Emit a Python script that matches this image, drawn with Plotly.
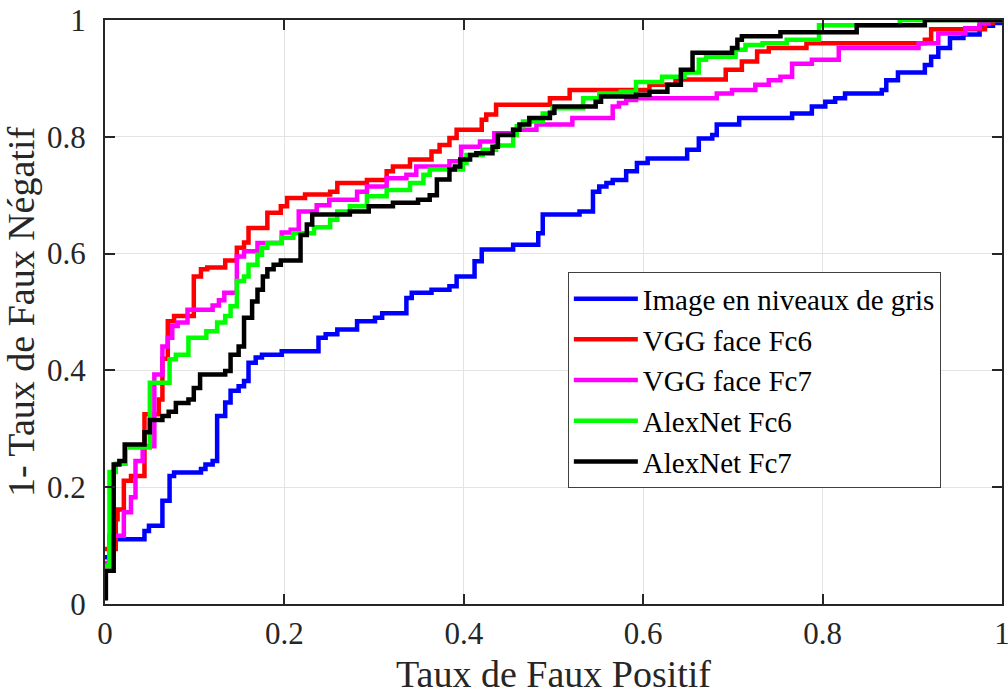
import plotly.graph_objects as go

# ---- data ----
series_names = ["Image en niveaux de gris", "VGG face Fc6", "VGG face Fc7", "AlexNet Fc6", "AlexNet Fc7"]
series_colors = ["#0000FF", "#FF0000", "#FF00FF", "#00FF00", "#000000"]

gray_x = [0.0, 0.006, 0.044, 0.049, 0.064, 0.072, 0.077, 0.107, 0.112, 0.120, 0.125, 0.134, 0.140, 0.149, 0.155,
          0.160, 0.168, 0.175, 0.197, 0.238, 0.246, 0.259, 0.281, 0.301, 0.309, 0.336, 0.342, 0.364, 0.384, 0.392,
          0.412, 0.420, 0.455, 0.483, 0.488, 0.529, 0.544, 0.551, 0.559, 0.566, 0.581, 0.593, 0.605, 0.649, 0.662,
          0.677, 0.682, 0.707, 0.766, 0.788, 0.803, 0.814, 0.825, 0.866, 0.871, 0.884, 0.914, 0.921, 0.929, 0.942,
          0.957, 0.975, 0.990, 1.0]
gray_y = [0.08, 0.111, 0.125, 0.134, 0.177, 0.219, 0.225, 0.231, 0.239, 0.245, 0.322, 0.345, 0.365, 0.373, 0.382,
          0.413, 0.422, 0.427, 0.433, 0.456, 0.462, 0.470, 0.484, 0.490, 0.498, 0.524, 0.533, 0.538, 0.544, 0.561,
          0.587, 0.607, 0.615, 0.635, 0.667, 0.672, 0.706, 0.715, 0.721, 0.726, 0.741, 0.755, 0.763, 0.778, 0.797,
          0.803, 0.821, 0.832, 0.840, 0.852, 0.860, 0.866, 0.874, 0.880, 0.897, 0.910, 0.923, 0.937, 0.952, 0.969,
          0.975, 0.990, 0.995, 0.995]

vgg6_x = [0.0, 0.012, 0.014, 0.021, 0.029, 0.044, 0.060, 0.064, 0.070, 0.077, 0.099, 0.107, 0.114, 0.134, 0.147,
          0.155, 0.160, 0.181, 0.196, 0.203, 0.223, 0.251, 0.259, 0.292, 0.314, 0.321, 0.340, 0.364, 0.373, 0.384,
          0.392, 0.420, 0.425, 0.436, 0.496, 0.518, 0.607, 0.636, 0.692, 0.710, 0.727, 0.740, 0.782, 0.914, 0.921,
          0.981, 0.990, 1.0]
vgg6_y = [0.094, 0.145, 0.162, 0.211, 0.219, 0.325, 0.350, 0.420, 0.484, 0.493, 0.561, 0.573, 0.576, 0.588, 0.610,
          0.619, 0.644, 0.670, 0.681, 0.695, 0.701, 0.706, 0.721, 0.726, 0.741, 0.749, 0.761, 0.775, 0.786, 0.798,
          0.812, 0.829, 0.838, 0.855, 0.866, 0.880, 0.889, 0.898, 0.915, 0.929, 0.946, 0.952, 0.960, 0.966, 0.984,
          0.995, 1.0, 1.0]

vgg7_x = [0.0, 0.005, 0.021, 0.029, 0.034, 0.042, 0.055, 0.064, 0.070, 0.075, 0.081, 0.092, 0.120, 0.127, 0.133,
          0.147, 0.155, 0.170, 0.197, 0.207, 0.216, 0.236, 0.250, 0.281, 0.292, 0.314, 0.336, 0.347, 0.384, 0.397,
          0.418, 0.434, 0.455, 0.481, 0.521, 0.566, 0.573, 0.581, 0.592, 0.682, 0.699, 0.725, 0.740, 0.753, 0.766,
          0.788, 0.818, 0.907, 0.929, 0.959, 0.975, 0.985, 1.0]
vgg7_y = [0.07, 0.117, 0.157, 0.183, 0.245, 0.270, 0.393, 0.441, 0.456, 0.476, 0.482, 0.504, 0.511, 0.520, 0.533,
          0.595, 0.604, 0.618, 0.636, 0.641, 0.672, 0.683, 0.692, 0.706, 0.715, 0.729, 0.735, 0.749, 0.758, 0.783,
          0.792, 0.806, 0.812, 0.821, 0.832, 0.852, 0.858, 0.863, 0.866, 0.874, 0.880, 0.889, 0.897, 0.903, 0.925,
          0.932, 0.952, 0.960, 0.977, 0.986, 0.994, 1.0, 1.0]

alex6_x = [0.0, 0.005, 0.012, 0.023, 0.050, 0.072, 0.079, 0.093, 0.113, 0.125, 0.134, 0.140, 0.147, 0.155, 0.160,
           0.170, 0.175, 0.181, 0.197, 0.210, 0.233, 0.251, 0.259, 0.273, 0.292, 0.314, 0.340, 0.355, 0.362, 0.399,
           0.403, 0.421, 0.436, 0.455, 0.459, 0.466, 0.488, 0.499, 0.533, 0.551, 0.575, 0.592, 0.621, 0.646, 0.662,
           0.670, 0.703, 0.714, 0.733, 0.760, 0.796, 0.886, 1.0]
alex6_y = [0.065, 0.226, 0.240, 0.268, 0.379, 0.419, 0.427, 0.456, 0.467, 0.482, 0.493, 0.510, 0.553, 0.561, 0.581,
           0.598, 0.610, 0.618, 0.627, 0.635, 0.645, 0.658, 0.672, 0.681, 0.698, 0.709, 0.721, 0.735, 0.744, 0.755,
           0.769, 0.778, 0.785, 0.803, 0.818, 0.826, 0.840, 0.849, 0.866, 0.874, 0.877, 0.894, 0.903, 0.910, 0.932,
           0.937, 0.949, 0.957, 0.960, 0.966, 0.991, 1.0, 1.0]

alex7_x = [0.0, 0.001, 0.0097, 0.016, 0.022, 0.044, 0.050, 0.064, 0.071, 0.079, 0.093, 0.099, 0.106, 0.134, 0.140,
           0.149, 0.155, 0.164, 0.170, 0.176, 0.181, 0.188, 0.196, 0.218, 0.225, 0.231, 0.273, 0.294, 0.321, 0.349,
           0.362, 0.370, 0.384, 0.390, 0.396, 0.407, 0.414, 0.432, 0.438, 0.455, 0.462, 0.473, 0.496, 0.501, 0.547,
           0.553, 0.592, 0.607, 0.627, 0.642, 0.655, 0.699, 0.705, 0.710, 0.753, 0.838, 0.914, 1.0]
alex7_y = [0.01, 0.057, 0.239, 0.245, 0.273, 0.294, 0.315, 0.322, 0.329, 0.344, 0.350, 0.370, 0.393, 0.399, 0.427,
           0.441, 0.490, 0.518, 0.538, 0.561, 0.573, 0.581, 0.588, 0.632, 0.650, 0.667, 0.672, 0.681, 0.687, 0.692,
           0.700, 0.727, 0.744, 0.749, 0.761, 0.769, 0.772, 0.783, 0.803, 0.812, 0.821, 0.832, 0.841, 0.852, 0.860,
           0.869, 0.872, 0.877, 0.889, 0.915, 0.944, 0.952, 0.966, 0.972, 0.979, 0.991, 1.0, 1.0]

tick_vals = [0, 0.2, 0.4, 0.6, 0.8, 1]
tick_text = ["0", "0.2", "0.4", "0.6", "0.8", "1"]

x_title = "Taux de Faux Positif"
y_title = "1- Taux de Faux Négatif"

# ---- figure ----
xs = [gray_x, vgg6_x, vgg7_x, alex6_x, alex7_x]
ys = [gray_y, vgg6_y, vgg7_y, alex6_y, alex7_y]

FONT = "Liberation Serif"
TXT = "#262626"
fig = go.Figure()
for name, color, x, y in zip(series_names, series_colors, xs, ys):
    fig.add_trace(go.Scatter(x=x, y=y, mode="lines", name=name,
                             line=dict(color=color, width=4.5, shape="hv")))

def axis_style(title_text, standoff, label_standoff):
    return dict(
        range=[0, 1], tickvals=tick_vals, ticktext=tick_text,
        showline=True, linecolor=TXT, linewidth=2, mirror="ticks",
        ticks="inside", ticklen=10, tickwidth=2, tickcolor=TXT,
        showgrid=True, gridcolor="#e3e3e3", gridwidth=1, zeroline=False,
        tickfont=dict(family=FONT, size=31, color=TXT),
        ticklabelstandoff=label_standoff,
        ticklabeloverflow="allow",
        automargin=False,
        title=dict(text=title_text, font=dict(family=FONT, size=38, color=TXT), standoff=standoff),
    )

fig.update_layout(
    width=1008, height=695,
    margin=dict(l=105, r=6, t=20, b=91, autoexpand=False),
    paper_bgcolor="white", plot_bgcolor="white",
    font=dict(family=FONT, color=TXT),
    xaxis=axis_style(x_title, 12, 1),
    yaxis=axis_style(y_title, 20, 11),
    legend=dict(x=0.516, y=0.568, xanchor="left", yanchor="top",
                bgcolor="white", bordercolor="#404040", borderwidth=1,
                itemwidth=64,
                font=dict(family=FONT, size=29, color="#000000")),
    showlegend=True,
)

# remove the browser's default 8px body margin so the figure fills the window exactly
fig.write_html("out.html", config={"displayModeBar": False},
               post_script="document.body.style.margin='0';")
